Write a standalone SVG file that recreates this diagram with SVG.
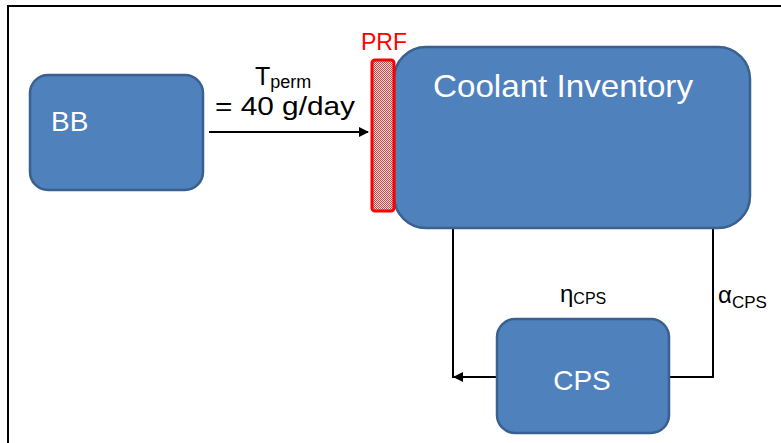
<svg xmlns="http://www.w3.org/2000/svg" width="781" height="443" viewBox="0 0 781 443">
<style>
.box{fill:#4F81BD;stroke:#3A6090;stroke-width:2.5}
.lbl{font-family:"Liberation Sans",Calibri,Arial,sans-serif;fill:#fff}
.txt{font-family:"Liberation Sans",Calibri,Arial,sans-serif;fill:#000}
.wire{fill:none;stroke:#000;stroke-width:2}
</style>
<defs>
<marker id="ah" viewBox="0 0 10 10" refX="9" refY="5" markerWidth="10" markerHeight="10" markerUnits="userSpaceOnUse" orient="auto">
<path d="M0,0 L10,5 L0,10 z" fill="#000"/>
</marker>
<pattern id="chk" width="2" height="2" patternUnits="userSpaceOnUse">
<rect width="2" height="2" fill="#f4e0e0"/>
<rect width="1" height="1" fill="#c84848"/>
<rect x="1" y="1" width="1" height="1" fill="#c84848"/>
</pattern>
</defs>
<rect x="0" y="0" width="781" height="443" fill="#fff"/>
<path d="M8,443 L8,6 L781,6" fill="none" stroke="#000" stroke-width="2"/>
<g id="connectors">
<line class="wire" x1="209" y1="132" x2="368" y2="132" marker-end="url(#ah)"/>
<polyline class="wire" points="713,228 713,377 669,377"/>
<polyline class="wire" points="453,228 453,377 497,377"/>
<line class="wire" x1="497" y1="377" x2="454" y2="377" marker-end="url(#ah)"/>
</g>
<g id="bb">
<rect class="box" x="30" y="75" width="173" height="115" rx="18"/>
<text class="lbl" x="51" y="131" font-size="28">BB</text>
</g>
<g id="coolant">
<rect class="box" x="394" y="47" width="356" height="181" rx="32"/>
<text class="lbl" x="433" y="97" font-size="32" textLength="260" lengthAdjust="spacingAndGlyphs">Coolant Inventory</text>
</g>
<g id="prf">
<rect x="372" y="60" width="22" height="151" rx="3" fill="url(#chk)" stroke="#ff0000" stroke-width="3"/>
<text x="361" y="50" font-size="23" font-family="Liberation Sans,Calibri,Arial,sans-serif" fill="#ff0000" textLength="46" lengthAdjust="spacingAndGlyphs">PRF</text>
</g>
<g id="cps">
<rect class="box" x="497" y="319" width="172" height="114" rx="18"/>
<text class="lbl" x="582" y="390" font-size="28" text-anchor="middle">CPS</text>
</g>
<g id="labels">
<text class="txt" x="255" y="85" font-size="25">T<tspan font-size="18" dy="3">perm</tspan></text>
<text class="txt" x="215" y="115" font-size="26" textLength="140" lengthAdjust="spacingAndGlyphs">= 40 g/day</text>
<text class="txt" x="560" y="302" font-size="24">η<tspan font-size="16" dy="2">CPS</tspan></text>
<text class="txt" x="718" y="303" font-size="24">α<tspan font-size="17" dy="5">CPS</tspan></text>
</g>
</svg>
